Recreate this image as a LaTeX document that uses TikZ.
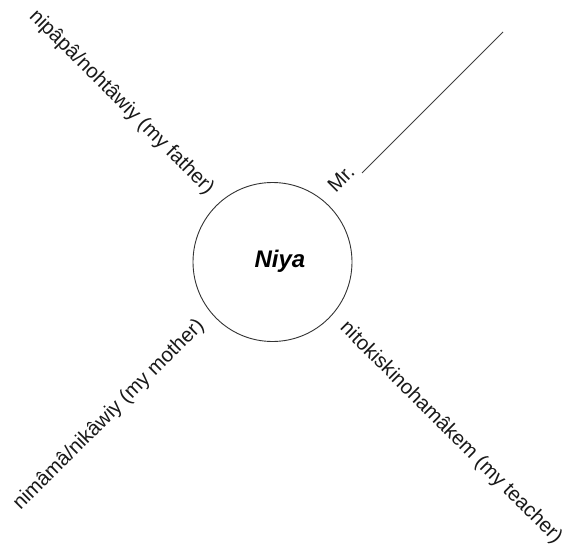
\documentclass[tikz,border=0pt]{standalone}
\usepackage{fontspec}
\setmainfont{Liberation Sans}
\begin{document}
\begin{tikzpicture}[x=1pt,y=-1pt,
  lbl/.style={inner sep=0pt, font=\fontsize{20.4}{23}\selectfont, text=black!90},
  ring/.style={draw=black!80, line width=0.9pt, circle, minimum size=159pt, inner sep=0pt},
  blank/.style={draw=black!75, line width=0.9pt}]
\useasboundingbox (0,0) rectangle (563,546);
\node[ring] (c) at (272.5,262) {};
\node[inner sep=0pt, font=\fontsize{24}{28}\selectfont\bfseries\itshape] (niya) at (280,261) {Niya};
\node[lbl, rotate=-45] (father) at (121.5,102.5) {nipâpâ/nohtâwiy (my father)};
\node[lbl, rotate=45] (mother) at (109,415) {nimâmâ/nikâwiy (my mother)};
\node[lbl, rotate=-45] (teacher) at (451,433) {nitokiskinohamâkem (my teacher)};
\node[lbl, rotate=45] (mr) at (341,179) {Mr.};
\coordinate (lineA) at (362,173);
\coordinate (lineB) at (503,32);
\draw[blank] (lineA) -- (lineB);
\end{tikzpicture}
\end{document}
